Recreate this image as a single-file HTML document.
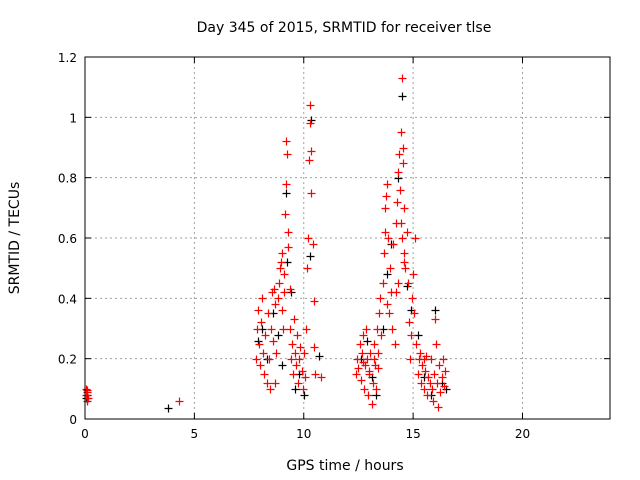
<!DOCTYPE html>
<html><head><meta charset="utf-8"><style>
body{margin:0;background:#fff}
svg{display:block;font-family:"DejaVu Sans","Liberation Sans",sans-serif;font-size:14px}
</style></head><body>
<svg id="chart" width="640" height="480">
<text x="344" y="32" text-anchor="middle">Day 345 of 2015, SRMTID for receiver tlse</text>
<text x="345" y="470" text-anchor="middle">GPS time / hours</text>
<text transform="translate(19,238) rotate(-90)" text-anchor="middle">SRMTID / TECUs</text>
<g id="grid"></g><g id="ticks"></g><g id="marks"></g>
<rect x="85" y="57" width="525" height="362" fill="none" stroke="#000"/>
</svg>
<script>
const xTicks=[0,5,10,15,20];
const yTicks=[0,0.2,0.4,0.6,0.8,1,1.2];
const yTickLabels=["0","0.2","0.4","0.6","0.8","1","1.2"];
const redHours=[0.05,0.1,0.05,0.15,0.1,0.08,4.3,7.8,7.85,7.9,7.95,8.0,8.05,8.1,8.15,8.2,8.25,8.3,8.35,8.4,8.45,8.5,8.55,8.6,8.65,8.7,8.75,8.8,8.85,8.9,8.95,9.0,9.05,9.1,9.15,9.2,9.2,9.25,9.3,9.3,9.35,9.35,9.4,9.45,9.5,9.55,9.6,9.65,9.7,9.75,9.8,9.85,9.9,9.95,10.0,10.05,10.1,10.15,10.2,10.25,10.3,10.3,10.35,10.35,10.4,10.45,10.45,10.5,10.8,9.1,8.7,9.0,12.4,12.45,12.5,12.55,12.6,12.65,12.7,12.75,12.8,12.85,12.9,12.95,13.0,13.05,13.1,13.15,13.2,13.25,13.3,13.35,13.4,13.45,13.5,13.55,13.6,13.65,13.7,13.7,13.75,13.8,13.85,13.9,13.95,14.0,14.05,14.1,14.15,14.2,14.25,14.3,14.35,14.4,14.45,14.5,14.55,14.6,14.6,14.65,14.7,14.75,14.8,14.85,14.9,14.95,15.0,15.05,15.1,15.15,15.2,15.25,15.3,15.35,15.4,15.5,15.55,15.6,15.65,15.7,15.75,15.8,15.85,15.9,15.95,16.0,16.05,16.1,16.15,16.2,16.25,16.3,16.35,16.4,16.45,13.2,13.0,12.7,13.4,15.5,14.45,14.55,14.5,14.6,13.8,14.2,14.3];
const redValues=[0.1,0.09,0.08,0.07,0.06,0.095,0.06,0.2,0.3,0.36,0.25,0.18,0.32,0.4,0.22,0.15,0.28,0.12,0.35,0.2,0.1,0.3,0.42,0.26,0.43,0.38,0.22,0.4,0.45,0.5,0.52,0.55,0.3,0.48,0.68,0.78,0.92,0.88,0.57,0.62,0.43,0.3,0.2,0.25,0.15,0.33,0.22,0.18,0.28,0.12,0.2,0.24,0.16,0.1,0.22,0.14,0.3,0.5,0.6,0.86,0.98,1.04,0.89,0.75,0.58,0.39,0.24,0.15,0.14,0.42,0.12,0.36,0.15,0.2,0.17,0.25,0.13,0.22,0.28,0.1,0.18,0.3,0.2,0.08,0.15,0.22,0.05,0.12,0.25,0.18,0.1,0.3,0.22,0.35,0.4,0.28,0.45,0.55,0.62,0.7,0.74,0.78,0.6,0.35,0.5,0.42,0.3,0.58,0.25,0.65,0.72,0.82,0.88,0.76,0.95,1.13,0.9,0.7,0.55,0.5,0.62,0.45,0.32,0.2,0.28,0.4,0.48,0.35,0.6,0.25,0.15,0.2,0.22,0.12,0.18,0.1,0.16,0.21,0.08,0.14,0.12,0.2,0.1,0.06,0.15,0.33,0.25,0.12,0.04,0.18,0.09,0.14,0.2,0.11,0.16,0.2,0.16,0.19,0.17,0.2,0.65,0.85,0.6,0.52,0.38,0.42,0.45];
const blackHours=[0.1,0.05,3.8,7.9,8.1,8.3,8.6,8.8,9.0,9.2,9.25,9.4,9.6,9.8,10.0,10.3,10.35,10.7,12.6,12.9,13.1,13.3,13.6,13.8,14.0,14.3,14.5,14.7,14.9,15.2,15.5,15.8,16.0,16.3,16.5];
const blackValues=[0.08,0.07,0.035,0.26,0.3,0.2,0.35,0.28,0.18,0.75,0.52,0.42,0.1,0.15,0.08,0.54,0.99,0.21,0.2,0.26,0.14,0.08,0.3,0.48,0.58,0.8,1.07,0.44,0.36,0.28,0.14,0.08,0.36,0.12,0.1];
const X0=85,X1=610,Y0=419,Y1=57,XMAX=24,YMAX=1.2;
const sx=v=>X0+v/XMAX*(X1-X0), sy=v=>Y0-v/YMAX*(Y0-Y1);
const NS="http://www.w3.org/2000/svg";
function mk(tag,attrs,parent){const e=document.createElementNS(NS,tag);for(const k in attrs)e.setAttribute(k,attrs[k]);parent.appendChild(e);return e;}
const grid=document.getElementById('grid'),ticks=document.getElementById('ticks'),marks=document.getElementById('marks');
xTicks.forEach(t=>{const x=sx(t);
 if(t>0){const g=mk('line',{x1:x,x2:x,y1:Y0,y2:Y1,stroke:'#a0a0a0','stroke-dasharray':'2,3'},grid);
 
 }
 mk('line',{x1:x,x2:x,y1:Y0,y2:Y0-6,stroke:'#000'},ticks);
 mk('line',{x1:x,x2:x,y1:Y1,y2:Y1+6,stroke:'#000'},ticks);
 const l=mk('text',{x:x,y:Y0+19,'text-anchor':'middle','font-size':'12'},ticks);l.textContent=t;
 
 });
yTicks.forEach((t,i)=>{const y=sy(t);
 if(t>0&&t<YMAX){const g=mk('line',{x1:X0,x2:X1,y1:y,y2:y,stroke:'#a0a0a0','stroke-dasharray':'2,3'},grid);
 
 }
 mk('line',{x1:X0,x2:X0+6,y1:y,y2:y,stroke:'#000'},ticks);
 mk('line',{x1:X1,x2:X1-6,y1:y,y2:y,stroke:'#000'},ticks);
 const l=mk('text',{x:X0-8,y:y+5,'text-anchor':'end','font-size':'12'},ticks);l.textContent=yTickLabels[i];
 
 });
function plus(h,v,c,name){const x=Math.round(sx(h))+0.5,y=Math.round(sy(v))+0.5;
 const p=mk('path',{d:`M${x-4} ${y}H${x+4}M${x} ${y-4}V${y+4}`,stroke:c,'stroke-width':1.2},marks);
 
 }
blackHours.forEach((h,i)=>plus(h,blackValues[i],'#000','black-point'));
redHours.forEach((h,i)=>plus(h,redValues[i],'#ff0000','red-point'));
</script>
</body></html>
